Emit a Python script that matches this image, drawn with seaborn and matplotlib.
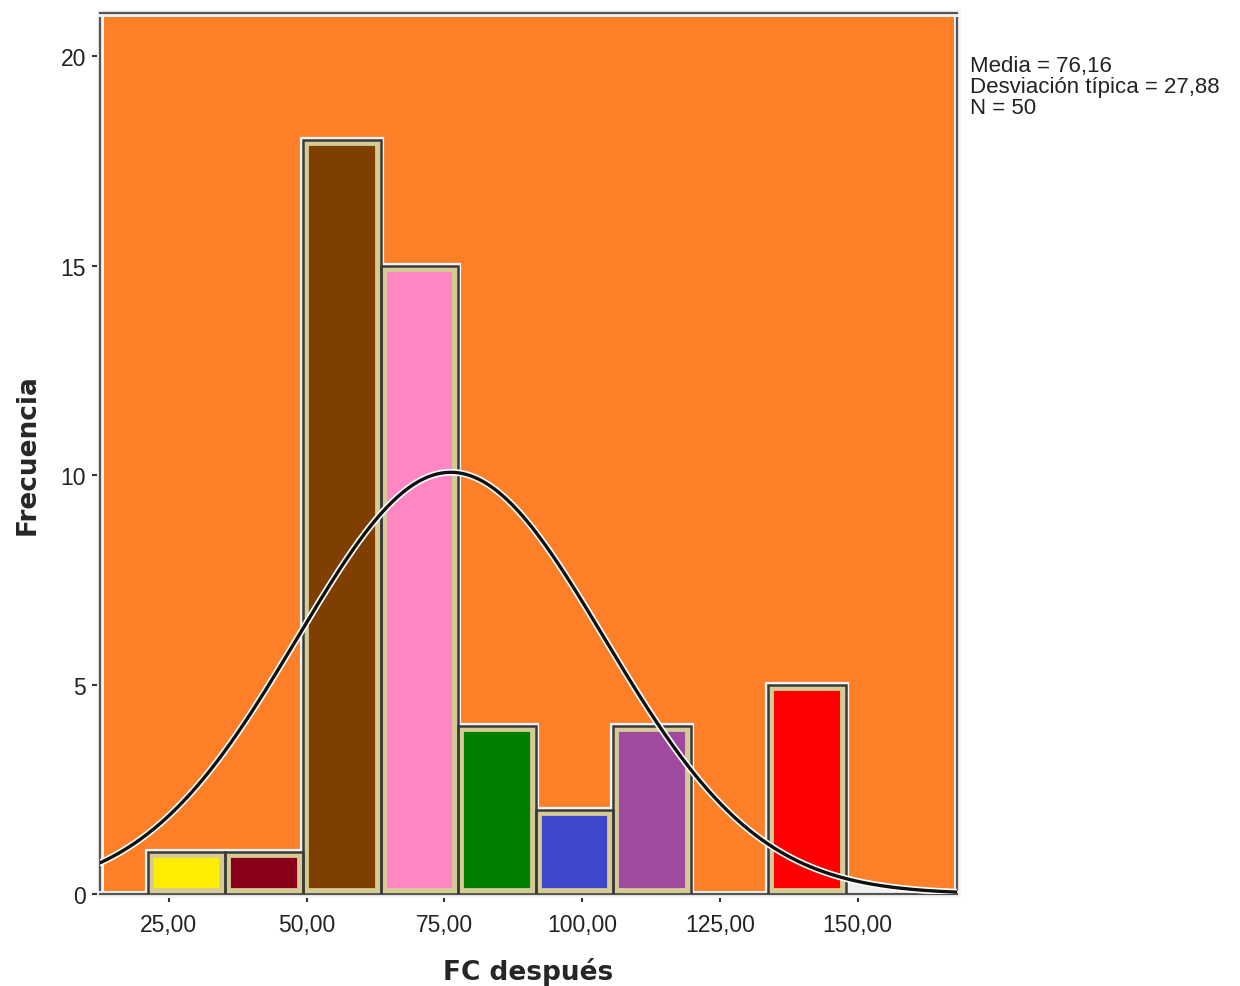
import numpy as np
import seaborn as sns
import matplotlib.pyplot as plt
import matplotlib.patheffects as pe

# Histogram of "FC después" (SPSS-style output)
bin_edges = [21.2, 35.27, 49.34, 63.41, 77.48, 91.55, 105.62, 119.69, 133.76, 147.83]
counts = [1, 1, 18, 15, 4, 2, 4, 0, 5]
bar_colors = ['#FFEE00', '#8A0018', '#7F3F00', '#FF88C4', '#008000',
              '#3F48CC', '#A04AA0', '#FFFFFF', '#FF0000']
x_ticks = [25, 50, 75, 100, 125, 150]
y_ticks = [0, 5, 10, 15, 20]
mean_val = 76.16
sd_val = 27.88
n_val = 50

centers = [(a + b) / 2 for a, b in zip(bin_edges[:-1], bin_edges[1:])]
bin_w = bin_edges[1] - bin_edges[0]

sns.set_style('white')
plt.rcParams['font.family'] = ['Liberation Sans', 'DejaVu Sans']

fig = plt.figure(figsize=(12.4, 9.87), dpi=100)
ax = fig.add_axes([0.0806, 0.0932, 0.6911, 0.8926])
ax.set_facecolor('#FD7F27')

khaki = '#D4CC94'
dark = '#3A3A3A'


def draw_layer(**kw):
    n = len(ax.patches)
    sns.histplot(x=centers, weights=counts, bins=bin_edges, ax=ax, **kw)
    return ax.patches[n:]


# white halo around bars
halo = draw_layer(facecolor='none', edgecolor='#F2F2F2', linewidth=4.5)
# coloured fill with khaki inner frame (clipped to the bar itself)
bars = draw_layer(color='white', alpha=1)
# thin dark outline
outline = draw_layer(facecolor='none', edgecolor=dark, linewidth=1.8)

for h, p, o, c, k in zip(halo, bars, outline, bar_colors, counts):
    h.set_zorder(2)
    p.set_zorder(3)
    o.set_zorder(3.5)
    if k == 0:
        for a in (h, p, o):
            a.set_visible(False)
        continue
    p.set_facecolor(c)
    p.set_edgecolor(khaki)
    p.set_linewidth(8.5)
    p.set_clip_path(p)

# fitted normal curve
xs = np.linspace(12.5, 168, 500)
ys = n_val * bin_w * np.exp(-0.5 * ((xs - mean_val) / sd_val) ** 2) / (sd_val * np.sqrt(2 * np.pi))
mask = xs >= bin_edges[-1]
ax.fill_between(xs[mask], 0, ys[mask], color='#EEEEEE', zorder=1.5, lw=0)
sns.lineplot(x=xs, y=ys, ax=ax, color='#111111', linewidth=2.4, zorder=5,
             path_effects=[pe.Stroke(linewidth=4.8, foreground='white'), pe.Normal()])

ax.set_xlim(12.5, 168)
ax.set_ylim(0, 21.03)
ax.set_xticks(x_ticks)
ax.set_xticklabels([f'{v:.2f}'.replace('.', ',') for v in x_ticks])
ax.set_yticks(y_ticks)
ax.set_yticklabels([str(v) for v in y_ticks])
ax.tick_params(direction='out', length=6, width=1.5, color='#333333',
               labelsize=16.5, pad=4, labelcolor='#222222')
ax.tick_params(axis='x', pad=8)
ax.tick_params(axis='both', which='both', bottom=True, left=True)

for s in ax.spines.values():
    s.set_color('#555555')
    s.set_linewidth(1.6)
    s.set_path_effects([pe.Stroke(linewidth=5, foreground='#F4F4F4'), pe.Normal()])

ax.set_xlabel('FC después', fontsize=19, fontweight='bold', family='DejaVu Sans', labelpad=15)
ax.set_ylabel('Frecuencia', fontsize=19, fontweight='bold', family='DejaVu Sans', labelpad=14)

fig.text(970 / 1240, 1 - 56 / 987,
         f'Media = {mean_val:.2f}'.replace('.', ',') + '\n'
         + f'Desviación típica = {sd_val:.2f}'.replace('.', ',') + '\n'
         + f'N = {n_val}',
         ha='left', va='top', fontsize=16, linespacing=1.0, color='#222222')

fig.savefig('out.png', dpi=100, facecolor='white')
